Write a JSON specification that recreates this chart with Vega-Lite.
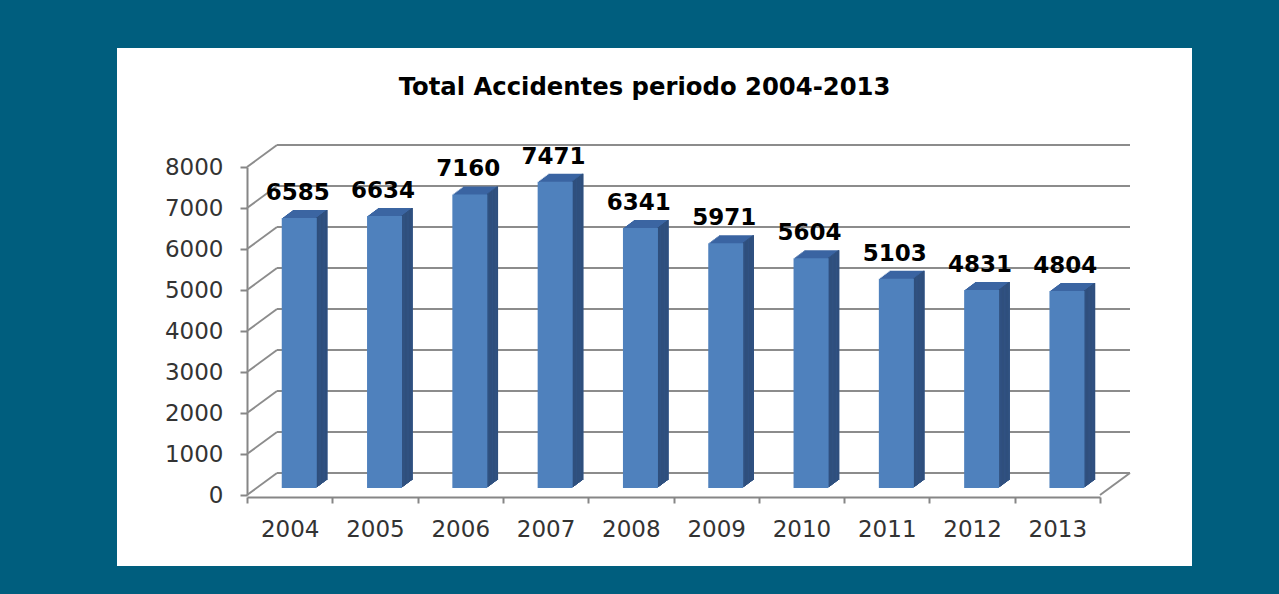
{
  "$schema": "https://vega.github.io/schema/vega-lite/v6.json",
  "width": 1075,
  "height": 518,
  "autosize": {"type": "none"},
  "padding": {"left": 117, "top": 48, "right": 87, "bottom": 28},
  "background": "#005e7e",
  "config": {
    "view": {"fill": "white", "stroke": null},
    "font": "DejaVu Sans"
  },
  "title": {
    "text": "Total Accidentes periodo 2004-2013",
    "font": "DejaVu Sans",
    "fontSize": 24.3,
    "fontWeight": "bold",
    "color": "black",
    "anchor": "middle",
    "frame": "group",
    "orient": "top",
    "baseline": "alphabetic",
    "offset": -71,
    "dx": -10
  },
  "datasets": {
    "bars": [
      {"year": "2004", "value": 6585},
      {"year": "2005", "value": 6634},
      {"year": "2006", "value": 7160},
      {"year": "2007", "value": 7471},
      {"year": "2008", "value": 6341},
      {"year": "2009", "value": 5971},
      {"year": "2010", "value": 5604},
      {"year": "2011", "value": 5103},
      {"year": "2012", "value": 4831},
      {"year": "2013", "value": 4804}
    ],
    "grid": [
      {"v": 0}, {"v": 1000}, {"v": 2000}, {"v": 3000}, {"v": 4000},
      {"v": 5000}, {"v": 6000}, {"v": 7000}, {"v": 8000}
    ]
  },
  "data": {"name": "bars"},
  "encoding": {
    "x": {
      "field": "year",
      "type": "ordinal",
      "scale": {"domain": ["2004","2005","2006","2007","2008","2009","2010","2011","2012","2013"], "range": [130, 983], "paddingInner": 0, "paddingOuter": 0},
      "axis": {
        "orient": "bottom",
        "offset": -69,
        "title": null,
        "labelAngle": 0,
        "tickBand": "extent",
        "tickExtra": true,
        "tickSize": 6,
        "tickWidth": 2,
        "tickColor": "#868686",
        "domainColor": "#868686",
        "domainWidth": 2,
        "labelFont": "DejaVu Sans",
        "labelFontSize": 23,
        "labelColor": "#333333",
        "labelPadding": 15,
        "grid": false
      }
    },
    "y": {
      "field": "value",
      "type": "quantitative",
      "scale": {"domain": [0, 8000], "range": [447, 119], "nice": false, "zero": false},
      "axis": {
        "orient": "left",
        "offset": -130,
        "title": null,
        "values": [0,1000,2000,3000,4000,5000,6000,7000,8000],
        "format": "d",
        "tickSize": 7,
        "tickWidth": 2,
        "tickColor": "#868686",
        "domainColor": "#868686",
        "domainWidth": 2,
        "labelFont": "DejaVu Sans",
        "labelFontSize": 23,
        "labelColor": "#333333",
        "labelPadding": 17,
        "grid": false
      }
    }
  },
  "layer": [
    {
      "data": {"name": "grid"},
      "mark": {"type": "rule", "color": "#8c8c8c", "strokeWidth": 2, "xOffset": 30, "x2Offset": 30, "yOffset": -22},
      "encoding": {
        "x": {"datum": "2004", "type": "ordinal", "bandPosition": 0},
        "x2": {"datum": "2013", "bandPosition": 1},
        "y": {"field": "v", "type": "quantitative"}
      }
    },
    {
      "data": {"name": "grid"},
      "mark": {"type": "rule", "color": "#8c8c8c", "strokeWidth": 2, "x2Offset": 30, "y2Offset": -22},
      "encoding": {
        "x": {"datum": "2004", "type": "ordinal", "bandPosition": 0},
        "x2": {"datum": "2004", "bandPosition": 0},
        "y": {"field": "v", "type": "quantitative"},
        "y2": {"field": "v"}
      }
    },
    {
      "data": {"name": "grid"},
      "transform": [{"filter": "datum.v == 0"}],
      "mark": {"type": "rule", "color": "#8c8c8c", "strokeWidth": 2, "x2Offset": 30, "y2Offset": -22},
      "encoding": {
        "x": {"datum": "2013", "type": "ordinal", "bandPosition": 1},
        "x2": {"datum": "2013", "bandPosition": 1},
        "y": {"field": "v", "type": "quantitative"},
        "y2": {"field": "v"}
      }
    },
    {"mark": {"type": "bar", "width": 35, "color": "#3b65a2", "xOffset": 20.3, "yOffset": -15, "y2Offset": -15}, "encoding": {"y2": {"datum": 0}}},
    {"mark": {"type": "bar", "width": 35, "color": "#3b65a2", "xOffset": 19.0, "yOffset": -14, "y2Offset": -14}, "encoding": {"y2": {"datum": 0}}},
    {"mark": {"type": "bar", "width": 35, "color": "#3b65a2", "xOffset": 17.6, "yOffset": -13, "y2Offset": -13}, "encoding": {"y2": {"datum": 0}}},
    {"mark": {"type": "bar", "width": 35, "color": "#3b65a2", "xOffset": 16.3, "yOffset": -12, "y2Offset": -12}, "encoding": {"y2": {"datum": 0}}},
    {"mark": {"type": "bar", "width": 35, "color": "#3b65a2", "xOffset": 14.9, "yOffset": -11, "y2Offset": -11}, "encoding": {"y2": {"datum": 0}}},
    {"mark": {"type": "bar", "width": 35, "color": "#3b65a2", "xOffset": 13.6, "yOffset": -10, "y2Offset": -10}, "encoding": {"y2": {"datum": 0}}},
    {"mark": {"type": "bar", "width": 35, "color": "#3b65a2", "xOffset": 12.3, "yOffset": -9, "y2Offset": -9}, "encoding": {"y2": {"datum": 0}}},
    {"mark": {"type": "bar", "width": 35, "color": "#3b65a2", "xOffset": 10.9, "yOffset": -8, "y2Offset": -8}, "encoding": {"y2": {"datum": 0}}},
    {"mark": {"type": "bar", "width": 1.6, "color": "#2f4f7d", "xOffset": 27.6, "yOffset": -8, "y2Offset": -8}, "encoding": {"y2": {"datum": 0}}},
    {"mark": {"type": "bar", "width": 1.6, "color": "#2f4f7d", "xOffset": 29.0, "yOffset": -9, "y2Offset": -9}, "encoding": {"y2": {"datum": 0}}},
    {"mark": {"type": "bar", "width": 1.6, "color": "#2f4f7d", "xOffset": 30.3, "yOffset": -10, "y2Offset": -10}, "encoding": {"y2": {"datum": 0}}},
    {"mark": {"type": "bar", "width": 1.6, "color": "#2f4f7d", "xOffset": 31.6, "yOffset": -11, "y2Offset": -11}, "encoding": {"y2": {"datum": 0}}},
    {"mark": {"type": "bar", "width": 1.6, "color": "#2f4f7d", "xOffset": 33.0, "yOffset": -12, "y2Offset": -12}, "encoding": {"y2": {"datum": 0}}},
    {"mark": {"type": "bar", "width": 1.6, "color": "#2f4f7d", "xOffset": 34.3, "yOffset": -13, "y2Offset": -13}, "encoding": {"y2": {"datum": 0}}},
    {"mark": {"type": "bar", "width": 1.6, "color": "#2f4f7d", "xOffset": 35.7, "yOffset": -14, "y2Offset": -14}, "encoding": {"y2": {"datum": 0}}},
    {"mark": {"type": "bar", "width": 1.6, "color": "#2f4f7d", "xOffset": 37.0, "yOffset": -15, "y2Offset": -15}, "encoding": {"y2": {"datum": 0}}},
    {"mark": {"type": "bar", "width": 35, "color": "#4f81bd", "xOffset": 9.6, "yOffset": -7, "y2Offset": -7}, "encoding": {"y2": {"datum": 0}}},
    {
      "mark": {"type": "text", "font": "DejaVu Sans", "fontSize": 23, "fontWeight": "bold", "color": "black", "baseline": "alphabetic", "align": "center", "xOffset": 8, "yOffset": -25},
      "encoding": {"text": {"field": "value", "type": "quantitative", "format": "d"}}
    }
  ]
}
